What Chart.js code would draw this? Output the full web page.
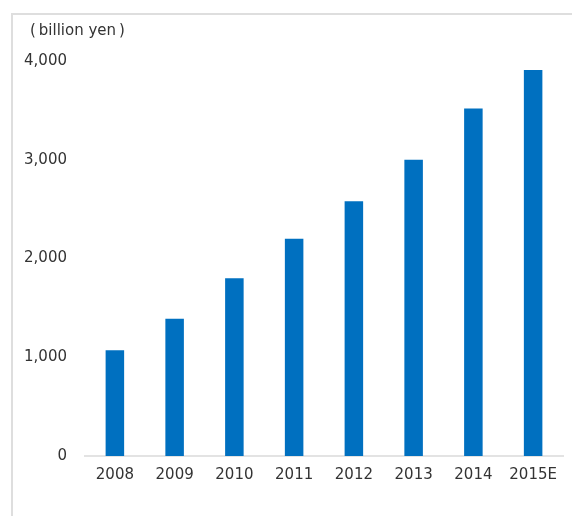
<!DOCTYPE html>
<html>
<head>
<meta charset="utf-8">
<script src="https://cdn.jsdelivr.net/npm/chart.js@4"></script>
<style>
  html, body { margin: 0; padding: 0; background: #fff; }
  #wrap { position: relative; width: 572px; height: 516px; }
  #frame { position: absolute; left: 11px; top: 13px; right: 0; bottom: 0;
           border-left: 2px solid #dedede; border-top: 2px solid #dedede; }
  #unit { position: absolute; left: 30px; top: 21px; font: 15px "DejaVu Sans", sans-serif; color: #333; }
  canvas { position: absolute; left: 0; top: 0; }
</style>
</head>
<body>
<div id="wrap">
  <div id="frame"></div>
  <canvas id="myChart" width="572" height="516"></canvas>
  <div id="unit">(&thinsp;billion yen&thinsp;)</div>
</div>
<script>
// Données du graphique
const years = ['2008', '2009', '2010', '2011', '2012', '2013', '2014', '2015E'];
const sales = [1070, 1390, 1800, 2200, 2580, 3000, 3520, 3910];
const yTicks = [0, 1000, 2000, 3000, 4000];

const ctx = document.getElementById('myChart').getContext('2d');

const myChart = new Chart(ctx, {
  type: 'bar',
  data: {
    labels: years,
    datasets: [{
      data: sales,
      backgroundColor: '#0070c0',
      barPercentage: 0.31,
      categoryPercentage: 1
    }]
  },
  options: {
    responsive: false,
    animation: false,
    layout: { padding: { top: 61, right: 9, left: 0, bottom: 0 } },
    plugins: {
      legend: { display: false },
      tooltip: { enabled: false }
    },
    scales: {
      x: {
        grid: { display: false, drawTicks: false },
        border: { display: true, color: '#e3e3e3', width: 2 },
        ticks: { color: '#333', font: { family: 'DejaVu Sans', size: 15 }, padding: 10 },
        afterFit: (scale) => { scale.height = 60; }
      },
      y: {
        min: 0,
        max: 4000,
        grid: { display: false, drawTicks: false },
        border: { display: false },
        afterBuildTicks: (scale) => { scale.ticks = yTicks.map(v => ({ value: v })); },
        ticks: {
          color: '#333',
          font: { family: 'DejaVu Sans', size: 15 },
          padding: 18,
          callback: (v) => v.toLocaleString('en-US')
        },
        afterFit: (scale) => { scale.width = 85; }
      }
    }
  }
});
</script>
</body>
</html>
